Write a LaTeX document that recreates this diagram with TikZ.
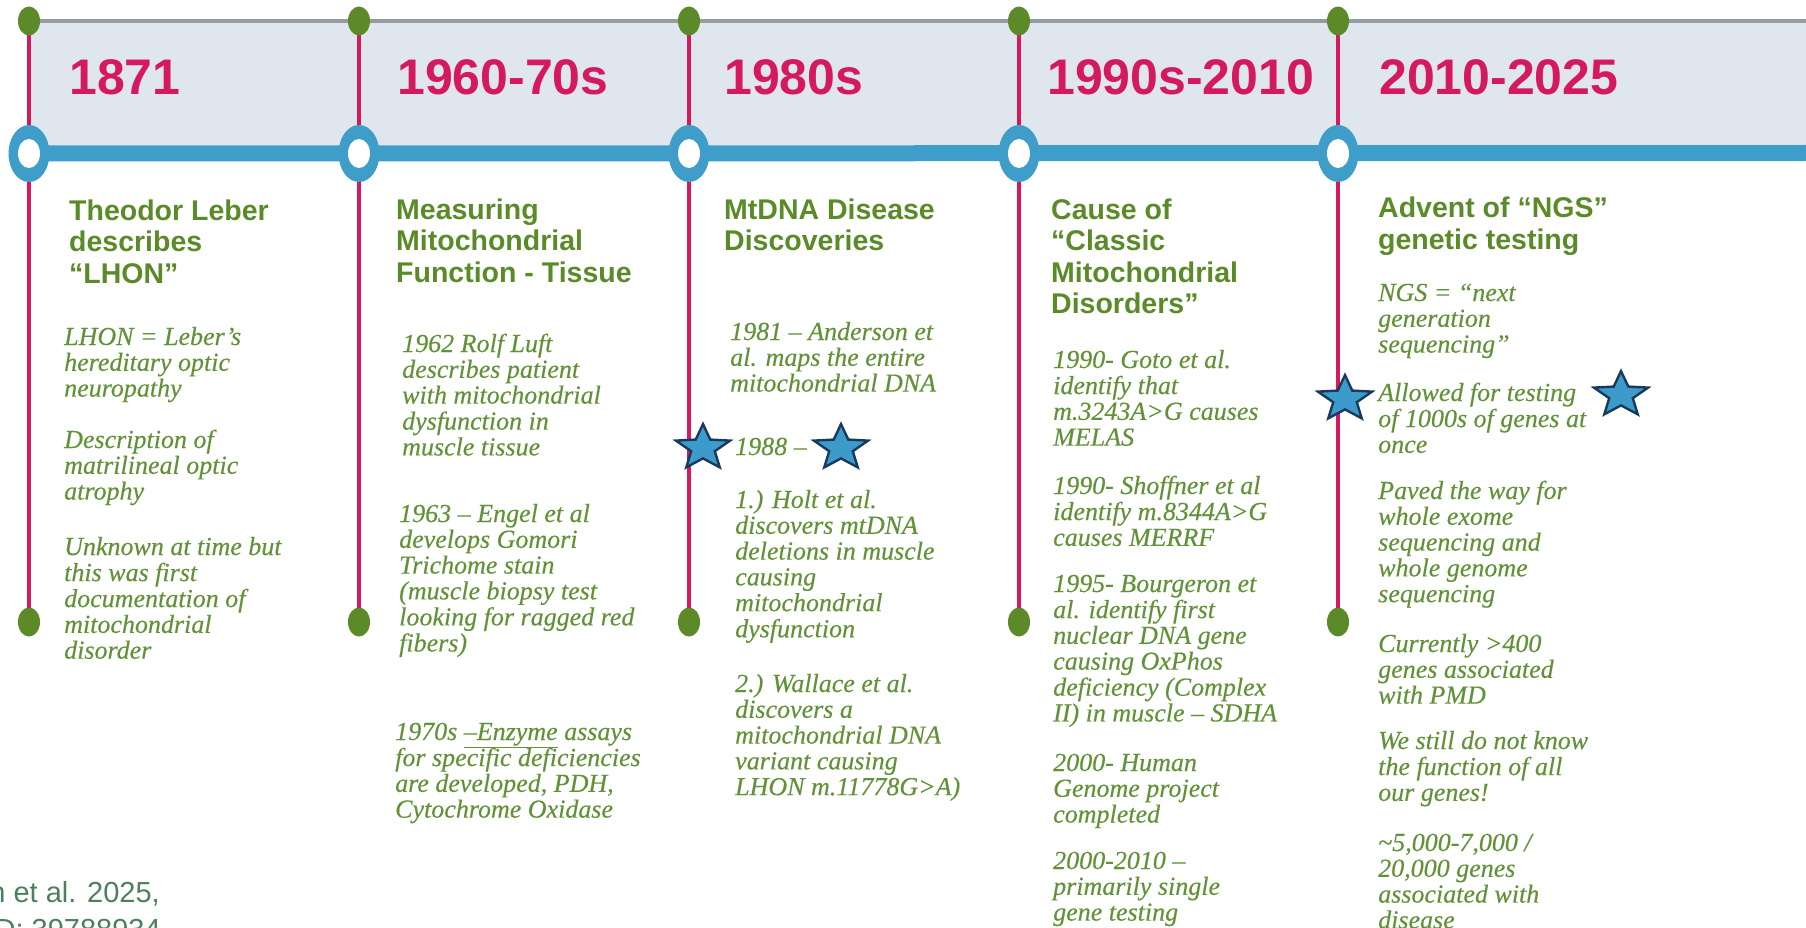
\documentclass[tikz,border=0pt]{standalone}
\usepackage{fontspec}
\setmainfont{Liberation Serif}
\newfontfamily\headfont{Liberation Sans}
\newfontfamily\bodyfont[FakeBold=0.3]{Liberation Serif}
\usetikzlibrary{shapes.geometric}

\definecolor{yearpink}{RGB}{212,25,94}
\definecolor{headgreen}{RGB}{90,139,40}
\definecolor{bodygreen}{RGB}{98,146,55}
\definecolor{dotgreen}{RGB}{92,138,40}
\definecolor{barblue}{RGB}{63,157,202}
\definecolor{bandfill}{RGB}{223,230,238}
\definecolor{rulegray}{RGB}{150,155,161}
\definecolor{starblue}{RGB}{60,155,203}
\definecolor{starnavy}{RGB}{24,58,92}
\definecolor{citegreen}{RGB}{76,128,92}

% stacked lines whose baseline is the first line's baseline
\newcommand{\txtlines}[1]{\begin{tabular}[t]{@{}l@{}}#1\end{tabular}}

\pgfdeclarelayer{bg}
\pgfsetlayers{bg,main}

\begin{document}
\begin{tikzpicture}[x=1pt,y=-1pt,
  year/.style={anchor=base west, inner sep=0, text=yearpink,
    font=\headfont\bfseries\fontsize{50}{60}\selectfont},
  head/.style={anchor=base west, inner sep=0, text=headgreen,
    font=\headfont\bfseries\fontsize{28.5}{31.5}\selectfont},
  body/.style={anchor=base west, inner sep=0, text=bodygreen,
    font=\bodyfont\itshape\fontsize{26}{25.8}\selectfont},
  cite/.style={anchor=base east, inner sep=0, text=citegreen,
    font=\headfont\fontsize{29}{37}\selectfont},
  gdot/.style={ellipse, fill=dotgreen, minimum width=22, minimum height=29, inner sep=0},
  ringout/.style={ellipse, fill=barblue, minimum width=41, minimum height=57, inner sep=0},
  ringhole/.style={ellipse, fill=white, minimum width=22, minimum height=29, inner sep=0},
  bluestar/.style={star, star points=5, star point ratio=2.3, minimum size=57,
    inner sep=0, fill=starblue, draw=starnavy, line width=2.4, line join=miter, transform shape}
]
\useasboundingbox (0,0) rectangle (1806,928);

% timeline markers: top dot, bottom dot and ring on each era line
\foreach \i/\x in {1/29,2/359,3/689,4/1019,5/1338} {
  \node[gdot] (t\i) at (\x,21) {};
  \node[gdot] (b\i) at (\x,622) {};
  \node[ringout] (r\i) at (\x,153.5) {};
  \node[ringhole] (h\i) at (\x,153.5) {};
}
\coordinate (grayend) at (1806,21);
\coordinate (barend) at (1806,153);

\begin{pgfonlayer}{bg}
  \fill[bandfill] (t1.center) rectangle (barend);
  \draw[rulegray, line width=3.5] (t1.center) -- (grayend);
  \draw[barblue, line width=16] (r1.center) -- (barend);
  \foreach \i in {1,...,5} \draw[yearpink, line width=4] (t\i.center) -- (b\i.center);
\end{pgfonlayer}

% era headings
\node[year] (y1) at (69,95) {1871};
\node[year] (y2) at (397,95) {1960-70s};
\node[year] (y3) at (724,95) {1980s};
\node[year] (y4) at (1047,95) {1990s-2010};
\node[year] (y5) at (1379,95) {2010-2025};

% 1871
\node[head] (h1a) at (69,220) {\txtlines{Theodor Leber\\describes\\“LHON”}};
\node[body] (p1a) at (64,345) {\txtlines{LHON = Leber’s\\hereditary optic\\neuropathy}};
\node[body] (p1b) at (64,448) {\txtlines{Description of\\matrilineal optic\\atrophy}};
\node[body] (p1c) at (64,555) {\txtlines{Unknown at time but\\this was first\\documentation of\\mitochondrial\\disorder}};

% 1960-70s
\node[head] (h2a) at (396,219) {\txtlines{Measuring\\Mitochondrial\\Function - Tissue}};
\node[body] (p2a) at (402,352) {\txtlines{1962 Rolf Luft\\describes patient\\with mitochondrial\\dysfunction in\\muscle tissue}};
\node[body] (p2b) at (399,522) {\txtlines{1963 – Engel et al\\develops Gomori\\Trichome stain\\(muscle biopsy test\\looking for ragged red\\fibers)}};
\node[body] (p2c) at (395,740) {\txtlines{1970s \underline{–Enzyme} assays\\for specific deficiencies\\are developed, PDH,\\Cytochrome Oxidase}};

% 1980s
\node[head] (h3a) at (724,219) {\txtlines{MtDNA Disease\\Discoveries}};
\node[body] (p3a) at (730,340) {\txtlines{1981 – Anderson et\\al. maps the entire\\mitochondrial DNA}};
\node[body] (p3b) at (735,455) {1988 –};
\node[body] (p3c) at (735,508) {\txtlines{1.) Holt et al.\\discovers mtDNA\\deletions in muscle\\causing\\mitochondrial\\dysfunction}};
\node[body] (p3d) at (735,692) {\txtlines{2.) Wallace et al.\\discovers a\\mitochondrial DNA\\variant causing\\LHON m.11778G>A)}};

% 1990s-2010
\node[head] (h4a) at (1051,219) {\txtlines{Cause of\\“Classic\\Mitochondrial\\Disorders”}};
\node[body] (p4a) at (1053,368) {\txtlines{1990- Goto et al.\\identify that\\m.3243A>G causes\\MELAS}};
\node[body] (p4b) at (1053,494) {\txtlines{1990- Shoffner et al\\identify m.8344A>G\\causes MERRF}};
\node[body] (p4c) at (1053,592) {\txtlines{1995- Bourgeron et\\al. identify first\\nuclear DNA gene\\causing OxPhos\\deficiency (Complex\\II) in muscle – SDHA}};
\node[body] (p4d) at (1053,771) {\txtlines{2000- Human\\Genome project\\completed}};
\node[body] (p4e) at (1053,869) {\txtlines{2000-2010 –\\primarily single\\gene testing}};

% 2010-2025
\node[head] (h5a) at (1378,218) {\txtlines{Advent of “NGS”\\genetic testing}};
\node[body] (p5a) at (1378,301) {\txtlines{NGS = “next\\generation\\sequencing”}};
\node[body] (p5b) at (1378,401) {\txtlines{Allowed for testing\\of 1000s of genes at\\once}};
\node[body] (p5c) at (1378,499) {\txtlines{Paved the way for\\whole exome\\sequencing and\\whole genome\\sequencing}};
\node[body] (p5d) at (1378,652) {\txtlines{Currently >400\\genes associated\\with PMD}};
\node[body] (p5e) at (1378,749) {\txtlines{We still do not know\\the function of all\\our genes!}};
\node[body] (p5f) at (1378,851) {\txtlines{\textasciitilde5,000-7,000 /\\20,000 genes\\associated with\\disease}};

% highlight stars
\begin{scope}[shift={(703,448)}, yscale=0.84] \node[bluestar] (s1) at (0,0) {}; \end{scope}
\begin{scope}[shift={(841,448)}, yscale=0.84] \node[bluestar] (s2) at (0,0) {}; \end{scope}
\begin{scope}[shift={(1345,399)}, yscale=0.84] \node[bluestar] (s3) at (0,0) {}; \end{scope}
\begin{scope}[shift={(1621,395)}, yscale=0.84] \node[bluestar] (s4) at (0,0) {}; \end{scope}

% reference, cut by the page edge
\begin{scope}
  \clip (0,0) rectangle (1806,928);
  \node[cite] (c1) at (160,902) {n et al. 2025,};
  \node[cite] (c2) at (161,939) {D: 39788934};
\end{scope}
\end{tikzpicture}
\end{document}
